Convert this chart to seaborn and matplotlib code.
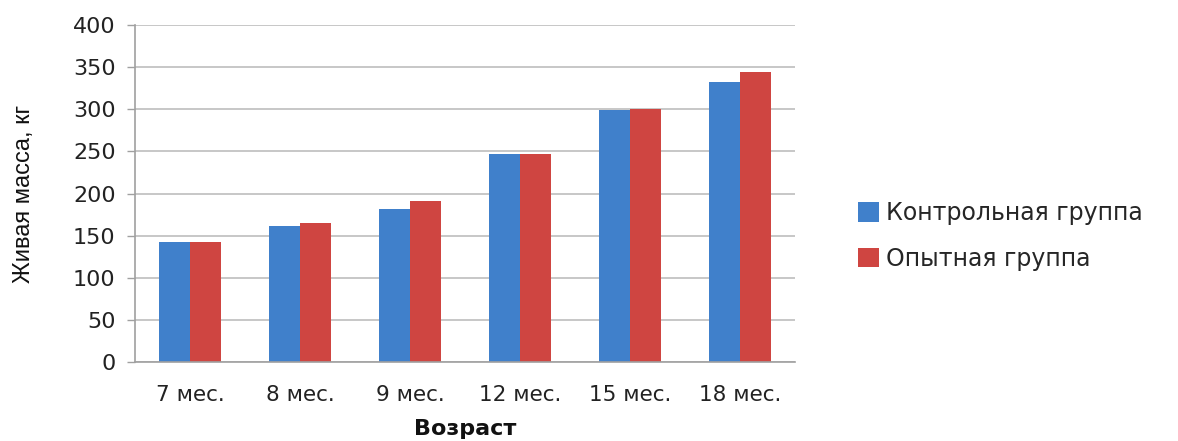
import numpy as np
import pandas as pd
import matplotlib
matplotlib.use("Agg")
import matplotlib.pyplot as plt
import seaborn as sns
from matplotlib.patches import Patch

# data
ages = ["7 мес.", "8 мес.", "9 мес.", "12 мес.", "15 мес.", "18 мес."]
control = [142, 161, 182, 247, 299, 333]
experimental = [142, 165, 191, 247, 301, 344]
groups = ["Контрольная группа", "Опытная группа"]
colors = ["#4080CB", "#CF4541"]

df = pd.DataFrame({
    "age": ages * 2,
    "mass": control + experimental,
    "group": [groups[0]] * len(ages) + [groups[1]] * len(ages),
})

sns.set_style("white")
plt.rcParams["font.family"] = ["DejaVu Sans"]

fig = plt.figure(figsize=(11.78, 4.41), dpi=100)
ax = fig.add_axes([0.1146, 0.179, 0.5604, 0.764])

sns.barplot(data=df, x="age", y="mass", hue="group", order=ages,
            hue_order=groups, palette=colors, width=0.56, saturation=1,
            linewidth=0, legend=False, ax=ax)

ax.set_ylim(0, 400)
ax.set_yticks(np.arange(0, 401, 50))
ax.set_xlim(-0.5, len(ages) - 0.5)
ax.yaxis.grid(True, color="#BEBEBE", linewidth=1.2)
ax.set_axisbelow(True)

for side in ["top", "right"]:
    ax.spines[side].set_visible(False)
for side in ["left", "bottom"]:
    ax.spines[side].set_color("#A0A0A0")
    ax.spines[side].set_linewidth(1.2)

ax.tick_params(axis="y", which="both", left=True, length=6, width=1,
               color="#A0A0A0", labelsize=16, pad=8, labelcolor="#222222")
ax.tick_params(axis="x", bottom=False, labelsize=15.5, pad=13, labelcolor="#222222")

ax.set_xlabel("Возраст", fontsize=16, fontweight="bold", labelpad=10, color="#111111")
ax.set_ylabel("Живая масса, кг", fontsize=17, family="Liberation Sans",
              color="#111111")
ax.yaxis.set_label_coords(-0.152, 0.5)

handles = [Patch(facecolor=c, edgecolor="none") for c in colors]
fig.legend(handles, groups, loc="center left", bbox_to_anchor=(0.71, 0.465),
           frameon=False, fontsize=17, handlelength=0.9, handleheight=0.9,
           handletextpad=0.3, labelspacing=0.9)

fig.savefig("out.png", dpi=100)
